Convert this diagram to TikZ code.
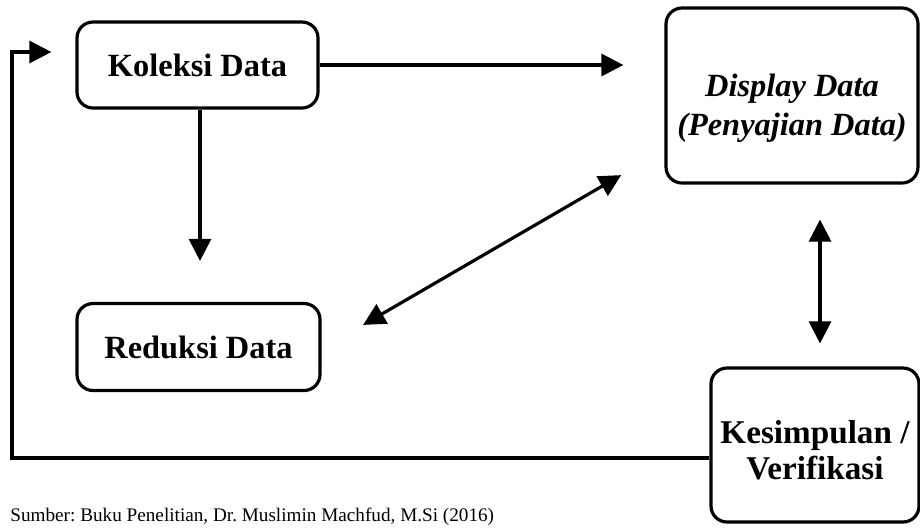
\documentclass[tikz,border=0pt]{standalone}
\usepackage{fontspec}
\setmainfont{Liberation Serif}
\usetikzlibrary{arrows.meta}
\begin{document}
\frenchspacing
\begin{tikzpicture}[x=0.5pt,y=-0.5pt,
  box/.style={draw, line width=1.6pt, rounded corners=8pt, align=center, inner sep=0pt,
    font=\fontsize{16.2pt}{19pt}\selectfont\bfseries},
  lbl/.style={align=center, inner sep=0pt},
  conn/.style={line width=1.6pt, -{Triangle[length=11pt,width=11pt]}},
  dconn/.style={line width=1.6pt, {Triangle[length=11pt,width=11pt]}-{Triangle[length=11pt,width=11pt]}}]
\useasboundingbox (0,0) rectangle (920,527);
\clip (0,0) rectangle (920,527);
\node[box, minimum width=120.5pt, minimum height=43pt] (kol) at (197.5,65) {Koleksi Data};
\node[box, minimum width=121.5pt, minimum height=43.5pt] (red) at (198.5,347) {Reduksi Data};
\node[box, minimum width=126pt, minimum height=87.5pt] (dis) at (792,95.5) {};
\node[lbl, font=\fontsize{16.2pt}{19.5pt}\selectfont\bfseries\itshape] (dist) at (792,108) {Display Data\\(Penyajian Data)};
\node[box, minimum width=104pt, minimum height=77pt] (kes) at (815,445) {};
\node[lbl, font=\fontsize{16.6pt}{18pt}\selectfont\bfseries] (kest) at (815,450) {Kesimpulan /\\Verifikasi};
\node[anchor=base west, inner sep=0pt, font=\fontsize{9.6pt}{11pt}\selectfont] (src) at (10,521) {Sumber: Buku Penelitian, Dr. Muslimin Machfud, M.Si (2016)};
\draw[conn, shorten >=20.5pt] (kol.east) -- (dis.west |- kol.east);
\draw[conn, shorten >=20.5pt] (kol.south -| 200,0) -- (red.north -| 200,0);
\draw[dconn, shorten <=24pt, shorten >=25pt] (red.east |- 0,349) -- (dis.west |- 0,150);
\draw[dconn, shorten <=17.5pt, shorten >=11.5pt] (dis.south -| 820,0) -- (kes.north -| 820,0);
\draw[conn, shorten >=12pt] (kes.west |- 0,458) -- (12,458) -- (12,52) -- (kol.west |- 0,52);
\end{tikzpicture}
\end{document}
